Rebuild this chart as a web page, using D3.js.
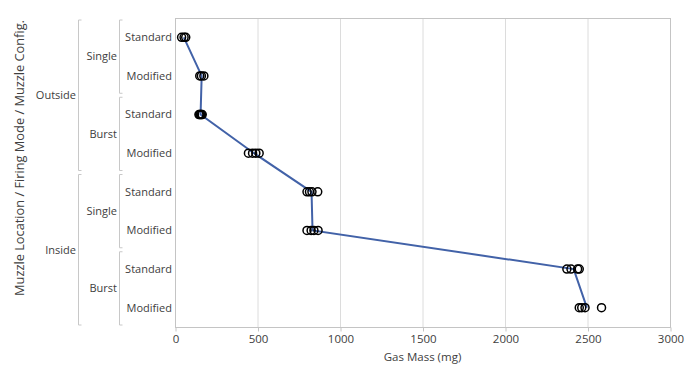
<!DOCTYPE html>
<html><head><meta charset="utf-8">
<script src="https://cdn.jsdelivr.net/npm/d3@7"></script>
<style>body{margin:0;background:#fff}svg{display:block}text{font-family:"Open Sans",sans-serif;fill:#404040}</style>
</head><body><svg id="c" width="685" height="367"></svg>
<script>
const locations = ["Outside", "Inside"];
const modes = ["Single", "Burst"];
const configs = ["Standard", "Modified"];
// rows in order: location / mode / config
const rowKeys = [
  ["Outside","Single","Standard"],
  ["Outside","Single","Modified"],
  ["Outside","Burst","Standard"],
  ["Outside","Burst","Modified"],
  ["Inside","Single","Standard"],
  ["Inside","Single","Modified"],
  ["Inside","Burst","Standard"],
  ["Inside","Burst","Modified"]
];
const gasMass = [
  [40, 55, 65],
  [150, 160, 175],
  [145, 150, 155, 160, 165],
  [445, 470, 490, 510],
  [800, 815, 830, 865],
  [800, 825, 842, 867],
  [2375, 2400, 2440, 2450],
  [2450, 2465, 2485, 2585]
];
const xTicks = [0, 500, 1000, 1500, 2000, 2500, 3000];

const svg = d3.select("#c");
const L = 175, R = 670, T = 18, B = 327;
const x = d3.scaleLinear().domain([0, 3000]).range([L, R]);
const y = d3.scaleBand().domain(d3.range(rowKeys.length)).range([T, B]);
const cy = i => y(i) + y.bandwidth() / 2;

// grid
svg.append("g").selectAll("line").data(xTicks.slice(1, -1)).join("line")
  .attr("x1", d => x(d) + 0.5).attr("x2", d => x(d) + 0.5).attr("y1", T).attr("y2", B)
  .attr("stroke", "#dcdcdc").attr("stroke-width", 1);
// frame
svg.append("rect").attr("x", L + 0.5).attr("y", T + 0.5).attr("width", R - L).attr("height", B - T)
  .attr("fill", "none").attr("stroke", "#c4c4c4");

// x axis
const xa = svg.append("g").attr("transform", `translate(0.5,${B + 0.5})`)
  .call(d3.axisBottom(x).tickValues(xTicks).tickFormat(d3.format("d")).tickSize(4).tickPadding(3));
xa.select(".domain").remove();
xa.selectAll("line").attr("stroke", "#c4c4c4");
xa.selectAll("text").style("font-size", "11.5px").attr("fill", "#404040").style("font-family", "'Open Sans',sans-serif");
svg.append("text").attr("x", (L + R) / 2).attr("y", 361).attr("text-anchor", "middle")
  .style("font-size", "11.5px").text("Gas Mass (mg)");

// y title
svg.append("text").attr("transform", "translate(24,158) rotate(-90)").attr("text-anchor", "middle")
  .style("font-size", "12.8px").text("Muzzle Location / Firing Mode / Muzzle Config.");

// config labels
svg.append("g").selectAll("text").data(rowKeys).join("text")
  .attr("x", 172).attr("y", (d, i) => cy(i)).attr("dy", "0.35em").attr("text-anchor", "end")
  .style("font-size", "11px").text(d => d[2]);

// mode groups
const modeGroups = [];
locations.forEach(l => modes.forEach(m => {
  const idx = rowKeys.map((k, i) => (k[0] === l && k[1] === m) ? i : -1).filter(i => i >= 0);
  modeGroups.push({ label: m, i0: d3.min(idx), i1: d3.max(idx) });
}));
const locGroups = locations.map(l => {
  const idx = rowKeys.map((k, i) => k[0] === l ? i : -1).filter(i => i >= 0);
  return { label: l, i0: d3.min(idx), i1: d3.max(idx) };
});
function brackets(groups, bx, tx) {
  const g = svg.append("g");
  groups.forEach(gr => {
    const y0 = y(gr.i0) + 2, y1 = y(gr.i1) + y.bandwidth() - 2;
    g.append("path").attr("d", `M${bx + 3},${y0}H${bx}V${y1}H${bx + 3}`)
      .attr("fill", "none").attr("stroke", "#c8c8c8");
    g.append("text").attr("x", tx).attr("y", (y0 + y1) / 2).attr("dy", "0.35em")
      .attr("text-anchor", "end").style("font-size", "11px").text(gr.label);
  });
}
brackets(modeGroups, 119.5, 117);
brackets(locGroups, 78.5, 76);

// mean line
const means = gasMass.map(v => d3.mean(v));
svg.append("path").datum(means)
  .attr("d", d3.line().x(d => x(d)).y((d, i) => cy(i)))
  .attr("fill", "none").attr("stroke", "#4262a8").attr("stroke-width", 2);

// points
const pts = [];
gasMass.forEach((v, i) => v.forEach(val => pts.push({ i, val })));
svg.append("g").selectAll("circle").data(pts).join("circle")
  .attr("cx", d => x(d.val)).attr("cy", d => cy(d.i)).attr("r", 4)
  .attr("fill", "none").attr("stroke", "#000").attr("stroke-width", 1.5);
</script></body></html>
